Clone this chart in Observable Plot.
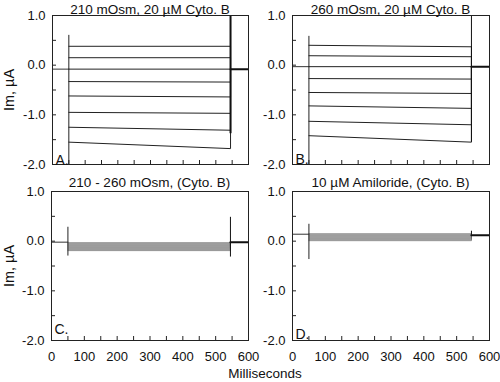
<!DOCTYPE html>
<html><head><meta charset="utf-8">
<script src="https://cdn.jsdelivr.net/npm/d3@7"></script>
<script src="https://cdn.jsdelivr.net/npm/@observablehq/plot@0.6"></script>
<style>
body{margin:0;background:#fff;}
#fig{position:relative;width:500px;height:382px;font-family:"Liberation Sans",Arial,sans-serif;color:#111;overflow:hidden;background:#fff}
.panel{position:absolute}
.lbl{position:absolute;white-space:nowrap;line-height:1;transform:translate(-50%,-50%)}
.ylab{transform:translate(-50%,-50%) rotate(-90deg)}
</style></head><body><div id="fig"></div>
<script>
// ---- axis ticks ----
const timeTicks = [0, 100, 200, 300, 400, 500, 600];
const timeMinorTicks = [0, 50, 100, 150, 200, 250, 300, 350, 400, 450, 500, 550, 600];
const currentTicks = [1, 0, -1, -2];
const currentMinorTicks = [1, 0.5, 0, -0.5, -1, -1.5, -2];
const pulseStart = 50, pulseEnd = 545, sweepEnd = 600;

// ---- text ----
const panelTitles = ["210 mOsm, 20 \u00b5M Cyto. B", "260 mOsm, 20 \u00b5M Cyto. B", "210 - 260 mOsm, (Cyto. B)", "10 \u00b5M Amiloride, (Cyto. B)"];
const panelLetters = ["A.", "B.", "C.", "D."];
const yLabel = "Im, \u00b5A";
const xLabel = "Milliseconds";

// ---- panel A: 210 mOsm ----
const holdPreA = -0.08, holdPostA = -0.08;
const stepStartA = [0.38, 0.15, -0.08, -0.33, -0.62, -0.95, -1.25, -1.55];
const stepEndA = [0.38, 0.15, -0.08, -0.34, -0.64, -0.97, -1.31, -1.68];
const onSpikeA = [-2.2, 0.6];
const offSpikeA = [-1.38, 1.1];

// ---- panel B: 260 mOsm ----
const holdPreB = -0.03, holdPostB = -0.03;
const stepStartB = [0.40, 0.19, -0.03, -0.27, -0.55, -0.82, -1.13, -1.42];
const stepEndB = [0.37, 0.17, -0.03, -0.28, -0.57, -0.87, -1.20, -1.55];
const onSpikeB = [-2.2, 0.58];
const offSpikeB = [-1.55, 1.1];

// ---- panel C: difference ----
const holdPreC = -0.02, holdPostC = -0.02;
const stepStartC = [-0.03, -0.05, -0.07, -0.09, -0.11, -0.13, -0.15, -0.17, -0.19];
const stepEndC = [-0.03, -0.05, -0.07, -0.09, -0.11, -0.13, -0.15, -0.17, -0.19];
const onSpikeC = [-0.3, 0.28];
const offSpikeC = [-0.32, 0.48];

// ---- panel D: amiloride ----
const holdPreD = 0.14, holdPostD = 0.12;
const stepStartD = [0.15, 0.13, 0.11, 0.09, 0.07, 0.05, 0.03, 0.01];
const stepEndD = [0.15, 0.13, 0.11, 0.09, 0.07, 0.05, 0.03, 0.01];
const onSpikeD = [-0.37, 0.34];
const offSpikeD = [0.12, 0.2];

const fig = document.getElementById("fig");

function makePanel(g, d, i) {
  const fw = g.w - g.mL - g.mR, fh = g.h - g.mT - g.mB;
  const traces = d.start.flatMap((s, k) => [
    {k, t: pulseStart, I: s},
    {k, t: pulseEnd, I: d.end[k]},
    {k, t: pulseEnd, I: d.holdPost}
  ]);
  const marks = [
    Plot.line([{t: 0, I: d.holdPre}, {t: pulseStart, I: d.holdPre}], {x: "t", y: "I", stroke: "#333", strokeWidth: 1, clip: true}),
    Plot.line(traces, {x: "t", y: "I", z: "k", stroke: d.band ? "#666" : "#222", strokeWidth: d.band ? 0.7 : 1, clip: true}),
    Plot.line([{t: pulseEnd, I: d.holdPost}, {t: sweepEnd, I: d.holdPost}], {x: "t", y: "I", stroke: "#111", strokeWidth: 2, clip: true}),
    Plot.ruleX([d.onSpike], {x: () => pulseStart, y1: v => v[0], y2: v => v[1], stroke: "#222", strokeWidth: 1, clip: true}),
    Plot.ruleX([d.offSpike], {x: () => pulseEnd, y1: v => v[0], y2: v => v[1], stroke: "#111", strokeWidth: d.thickOff ? 2 : 1, clip: true}),
    Plot.tickX(timeMinorTicks, {x: v => v, insetTop: fh - 4, stroke: "#222"}),
    Plot.tickY(currentMinorTicks, {y: v => v, insetRight: fw - 4, stroke: "#222"}),
    Plot.frame({stroke: "#222", strokeWidth: 1}),
    Plot.axisY(currentTicks, {tickSize: 0, tickPadding: 7, tickFormat: v => v.toFixed(1), label: null, fontSize: 13}),
    Plot.text([panelLetters[i]], {frameAnchor: "bottom-left", text: v => v, dx: 3, dy: d.letterDy, fontSize: 14, textAnchor: "start", lineAnchor: "bottom", fill: "#111"})
  ];
  if (d.bottom) marks.push(Plot.axisX(timeTicks, {tickSize: 0, tickPadding: 11, tickFormat: v => String(v), label: null, fontSize: 13}));
  const p = Plot.plot({
    width: g.w, height: g.h,
    marginLeft: g.mL, marginRight: g.mR, marginTop: g.mT, marginBottom: g.mB,
    x: {domain: [0, 600], axis: null},
    y: {domain: [-2, 1], axis: null},
    style: {fontFamily: "'Liberation Sans', Arial, sans-serif", fontSize: "13px", color: "#111", background: "transparent", overflow: "visible"},
    marks
  });
  p.classList.add("panel");
  p.style.left = g.x + "px";
  p.style.top = g.y + "px";
  fig.appendChild(p);

  const t = document.createElement("div");
  t.className = "lbl";
  t.style.fontSize = "13.5px";
  t.style.left = (g.x + g.mL + fw / 2) + "px";
  t.style.top = g.titleY + "px";
  t.textContent = panelTitles[i];
  fig.appendChild(t);
}

const geoms = [
  {x: 0, y: 0, w: 250, h: 190, mL: 52, mR: 2, mT: 15, mB: 26, titleY: 10},
  {x: 250, y: 0, w: 250, h: 190, mL: 42, mR: 11, mT: 15, mB: 26, titleY: 10},
  {x: 0, y: 190, w: 250, h: 192, mL: 51, mR: 2, mT: 1, mB: 42, titleY: 183},
  {x: 250, y: 190, w: 250, h: 192, mL: 42, mR: 11, mT: 1, mB: 42, titleY: 183}
];
const panelData = [
  {holdPre: holdPreA, holdPost: holdPostA, start: stepStartA, end: stepEndA, onSpike: onSpikeA, offSpike: offSpikeA, thickOff: true, band: false, bottom: false, letterDy: 0},
  {holdPre: holdPreB, holdPost: holdPostB, start: stepStartB, end: stepEndB, onSpike: onSpikeB, offSpike: offSpikeB, thickOff: false, band: false, bottom: false, letterDy: -1},
  {holdPre: holdPreC, holdPost: holdPostC, start: stepStartC, end: stepEndC, onSpike: onSpikeC, offSpike: offSpikeC, thickOff: false, band: true, bottom: true, letterDy: -7},
  {holdPre: holdPreD, holdPost: holdPostD, start: stepStartD, end: stepEndD, onSpike: onSpikeD, offSpike: offSpikeD, thickOff: false, band: true, bottom: true, letterDy: -2}
];
geoms.forEach((g, i) => makePanel(g, panelData[i], i));

[[9, 90], [9, 266]].forEach(([x, y]) => {
  const l = document.createElement("div");
  l.className = "lbl ylab";
  l.style.fontSize = "14.5px";
  l.style.left = x + "px";
  l.style.top = y + "px";
  l.textContent = yLabel;
  fig.appendChild(l);
});
const xl = document.createElement("div");
xl.className = "lbl";
xl.style.fontSize = "13.5px";
xl.style.left = "265px";
xl.style.top = "374px";
xl.textContent = xLabel;
fig.appendChild(xl);
</script></body></html>
